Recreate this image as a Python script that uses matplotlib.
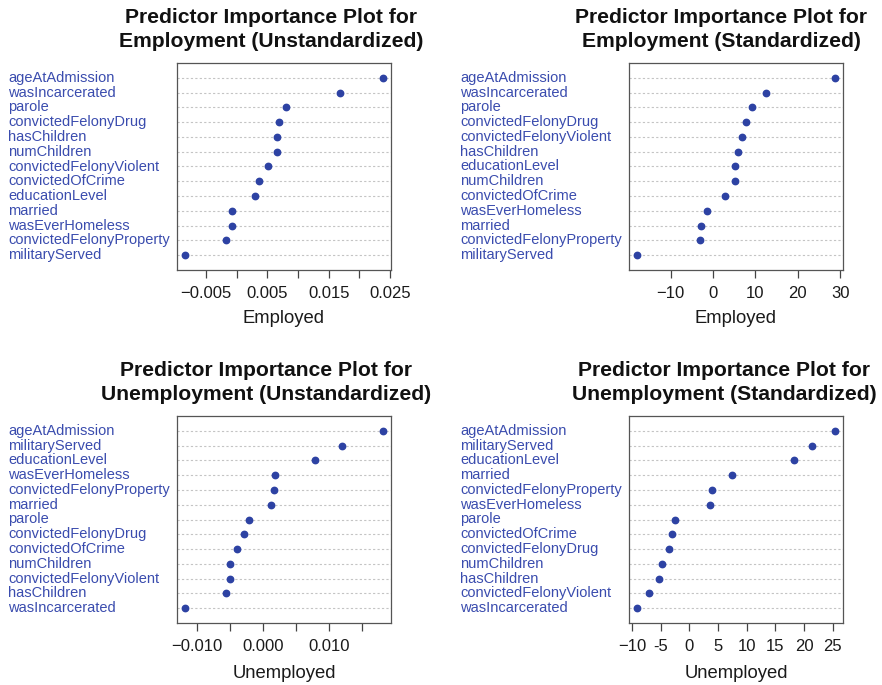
import numpy as np
import matplotlib
matplotlib.use('Agg')
import matplotlib.pyplot as plt
from matplotlib.transforms import blended_transform_factory

plt.rcParams['font.family'] = ['Liberation Sans', 'DejaVu Sans']

# data, listed top to bottom as in each panel
emp_raw_labels = ['ageAtAdmission', 'wasIncarcerated', 'parole', 'convictedFelonyDrug',
                  'hasChildren', 'numChildren', 'convictedFelonyViolent', 'convictedOfCrime',
                  'educationLevel', 'married', 'wasEverHomeless', 'convictedFelonyProperty',
                  'militaryServed']
emp_raw_values = [0.02386, 0.0169, 0.0081, 0.00696, 0.00663, 0.00652, 0.00511, 0.0037,
                  0.00299, -0.00076, -0.00076, -0.00168, -0.00842]

emp_std_labels = ['ageAtAdmission', 'wasIncarcerated', 'parole', 'convictedFelonyDrug',
                  'convictedFelonyViolent', 'hasChildren', 'educationLevel', 'numChildren',
                  'convictedOfCrime', 'wasEverHomeless', 'married', 'convictedFelonyProperty',
                  'militaryServed']
emp_std_values = [28.8, 12.44, 9.13, 7.80, 6.77, 5.98, 5.28, 5.12, 2.83, -1.34, -2.83,
                  -3.15, -17.95]

unemp_raw_labels = ['ageAtAdmission', 'militaryServed', 'educationLevel', 'wasEverHomeless',
                    'convictedFelonyProperty', 'married', 'parole', 'convictedFelonyDrug',
                    'convictedOfCrime', 'numChildren', 'convictedFelonyViolent', 'hasChildren',
                    'wasIncarcerated']
unemp_raw_values = [0.01818, 0.01197, 0.00793, 0.00177, 0.00162, 0.00121, -0.00212, -0.00283,
                    -0.00384, -0.0049, -0.0049, -0.0056, -0.01177]

unemp_std_labels = ['ageAtAdmission', 'militaryServed', 'educationLevel', 'married',
                    'convictedFelonyProperty', 'wasEverHomeless', 'parole', 'convictedOfCrime',
                    'convictedFelonyDrug', 'numChildren', 'hasChildren', 'convictedFelonyViolent',
                    'wasIncarcerated']
unemp_std_values = [25.38, 21.31, 18.23, 7.43, 3.89, 3.60, -2.44, -2.96, -3.48, -4.70, -5.34,
                    -6.97, -9.12]

titles = ['Predictor Importance Plot for\nEmployment (Unstandardized)',
          'Predictor Importance Plot for\nEmployment (Standardized)',
          'Predictor Importance Plot for\nUnemployment (Unstandardized)',
          'Predictor Importance Plot for\nUnemployment (Standardized)']
xlabels = ['Employed', 'Employed', 'Unemployed', 'Unemployed']

emp_raw_ticks = [-0.005, 0.0, 0.005, 0.010, 0.015, 0.020, 0.025]
emp_raw_ticklabels = ['\u22120.005', '', '0.005', '', '0.015', '', '0.025']
emp_std_ticks = [-10, 0, 10, 20, 30]
emp_std_ticklabels = ['\u221210', '0', '10', '20', '30']
unemp_raw_ticks = [-0.010, -0.005, 0.0, 0.005, 0.010, 0.015]
unemp_raw_ticklabels = ['\u22120.010', '', '0.000', '', '0.010', '']
unemp_std_ticks = [-10, -5, 0, 5, 10, 15, 20, 25]
unemp_std_ticklabels = ['\u221210', '-5', '0', '5', '10', '15', '20', '25']

W, H = 882, 685
fig = plt.figure(figsize=(W / 100, H / 100), dpi=100)

dot_color = '#2d42a3'
text_color = '#3a4cae'

# panel boxes in pixels: left, right, top, bottom, label x, title x, title top offset, labelpad
panels = [
    (177, 391, 63, 270, 8, 271, 0, 6.5),
    (629, 843, 63, 270, 460, 721, 0, 6.5),
    (177, 391, 416, 623, 8, 266, 353, 8),
    (629, 843, 416, 623, 460, 724, 353, 8),
]
data = [
    (emp_raw_labels, emp_raw_values, emp_raw_ticks, emp_raw_ticklabels),
    (emp_std_labels, emp_std_values, emp_std_ticks, emp_std_ticklabels),
    (unemp_raw_labels, unemp_raw_values, unemp_raw_ticks, unemp_raw_ticklabels),
    (unemp_std_labels, unemp_std_values, unemp_std_ticks, unemp_std_ticklabels),
]

for i in range(4):
    l, r, t, b, lx, tx, toff, lpad = panels[i]
    labels, values, ticks, ticklabels = data[i]
    ax = fig.add_axes([l / W, (H - b) / H, (r - l) / W, (b - t) / H])
    n = len(values)
    y = np.arange(n, 0, -1)
    for yy in y:
        ax.axhline(yy, color='#c4c4c4', lw=0.8, ls=(0, (2, 2)), zorder=1)
    ax.plot(values, y, 'o', color=dot_color, markersize=4.6, zorder=3)
    lo, hi = min(values), max(values)
    ext = (hi - lo) * 0.04
    ax.set_xlim(lo - ext, hi + ext)
    ax.set_ylim(0, n + 1)
    ax.set_yticks([])
    ax.set_xticks(ticks)
    ax.set_xticklabels(ticklabels)
    ax.tick_params(axis='x', length=6, width=0.9, color='#444444', pad=5.5,
                   labelsize=12, labelcolor='#1a1a1a')
    for sp in ax.spines.values():
        sp.set_color('#555555')
        sp.set_linewidth(0.9)
    ax.set_xlabel(xlabels[i], fontsize=13.3, color='#1a1a1a', labelpad=lpad)

    tr = blended_transform_factory(fig.transFigure, ax.transData)
    for lab, yy in zip(labels, y):
        ax.text(lx / W, yy, lab, transform=tr, ha='left', va='center',
                fontsize=10.5, color=text_color, clip_on=False)

    line1, line2 = titles[i].split('\n')
    fig.text(tx / W, 1 - (23 + toff) / H, line1, ha='center', va='baseline',
             fontsize=15.2, fontweight='bold', color='#111111')
    fig.text(tx / W, 1 - (47 + toff) / H, line2, ha='center', va='baseline',
             fontsize=15.2, fontweight='bold', color='#111111')

fig.savefig('out.png', dpi=100)
